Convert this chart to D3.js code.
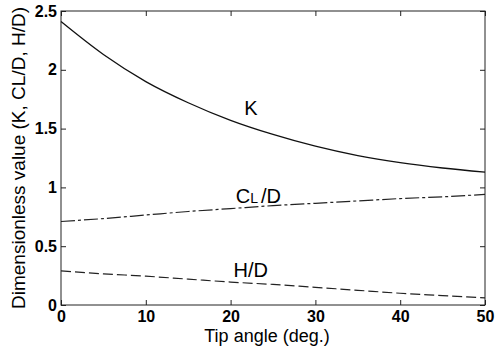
<!DOCTYPE html>
<html>
<head>
<meta charset="utf-8">
<script src="https://cdn.jsdelivr.net/npm/d3@7"></script>
<style>
  body { margin: 0; background: #fff; }
  svg { display: block; font-family: "Liberation Sans", Arial, sans-serif; }
</style>
</head>
<body>
<div id="chart"></div>
<script>
// tip angle in degrees
const angles = [0, 5, 10, 15, 20, 25, 30, 35, 40, 45, 50];
const kValues = [2.41, 2.13, 1.90, 1.72, 1.57, 1.45, 1.35, 1.27, 1.21, 1.165, 1.13];
const clValues = [0.71, 0.735, 0.765, 0.795, 0.82, 0.845, 0.865, 0.885, 0.905, 0.92, 0.94];
const hdValues = [0.29, 0.265, 0.245, 0.22, 0.195, 0.175, 0.15, 0.125, 0.10, 0.08, 0.06];
const xTicks = [0, 10, 20, 30, 40, 50];
const yTicks = [0, 0.5, 1, 1.5, 2, 2.5];

const width = 503, height = 348;
const margin = { top: 11, right: 18, bottom: 43, left: 61 };

const svg = d3.select('#chart')
    .append('svg')
    .attr('width', width)
    .attr('height', height);

const x = d3.scaleLinear().domain([0, 50]).range([margin.left, width - margin.right]);
const y = d3.scaleLinear().domain([0, 2.5]).range([height - margin.bottom, margin.top]);

// frame
svg.append('rect')
    .attr('x', x(0)).attr('y', y(2.5))
    .attr('width', x(50) - x(0)).attr('height', y(0) - y(2.5))
    .attr('fill', 'none').attr('stroke', '#222').attr('stroke-width', 1);

// ticks inside on all sides
const tickLen = 5;
const bottomAxis = d3.axisBottom(x).tickValues(xTicks).tickSize(-tickLen).tickPadding(6).tickFormat(d3.format('d'));
const leftAxis = d3.axisLeft(y).tickValues(yTicks).tickSize(-tickLen).tickPadding(4).tickFormat(d => d);

svg.append('g').attr('transform', `translate(0,${y(0)})`).call(bottomAxis);
svg.append('g').attr('transform', `translate(${x(0)},0)`).call(leftAxis);
svg.append('g').attr('transform', `translate(0,${y(2.5)})`)
    .call(d3.axisTop(x).tickValues(xTicks).tickSize(-tickLen).tickFormat(''));
svg.append('g').attr('transform', `translate(${x(50)},0)`)
    .call(d3.axisRight(y).tickValues(yTicks).tickSize(-tickLen).tickFormat(''));

svg.selectAll('.domain').remove();
svg.selectAll('.tick line').attr('stroke', '#222');
svg.selectAll('.tick text')
    .attr('fill', '#000')
    .style('font-size', '16px')
    .style('font-weight', 'bold')
    .style('font-family', '"Liberation Sans", Arial, sans-serif');

// curves
const line = vals => d3.line()
    .x((d, i) => x(angles[i]))
    .y(d => y(d))
    .curve(d3.curveMonotoneX)(vals);

svg.append('path').attr('d', line(kValues))
    .attr('fill', 'none').attr('stroke', '#111').attr('stroke-width', 1.3);
svg.append('path').attr('d', line(clValues))
    .attr('fill', 'none').attr('stroke', '#222').attr('stroke-width', 1.2)
    .attr('stroke-dasharray', '14,3,3,3');
svg.append('path').attr('d', line(hdValues))
    .attr('fill', 'none').attr('stroke', '#222').attr('stroke-width', 1.2)
    .attr('stroke-dasharray', '10,4');

// curve labels
const lbl = svg.append('g').attr('fill', '#000').style('font-size', '20px');
lbl.append('text').attr('x', x(21.6)).attr('y', y(1.615)).text('K');
const cl = lbl.append('text').attr('x', x(20.6)).attr('y', y(0.867));
cl.append('tspan').text('C');
cl.append('tspan').style('font-size', '14px').text('L');
cl.append('tspan').attr('dx', 3).text('/D');
lbl.append('text').attr('x', x(20.35)).attr('y', y(0.238)).text('H/D');

// axis titles
svg.append('text')
    .attr('x', 267).attr('y', 342)
    .attr('text-anchor', 'middle')
    .style('font-size', '18px')
    .text('Tip angle (deg.)');
svg.append('text')
    .attr('transform', `translate(25,${(y(0) + y(2.5)) / 2}) rotate(-90)`)
    .attr('text-anchor', 'middle')
    .attr('textLength', 302)
    .attr('lengthAdjust', 'spacingAndGlyphs')
    .style('font-size', '19px')
    .text('Dimensionless value (K, CL/D, H/D)');
</script>
</body>
</html>
